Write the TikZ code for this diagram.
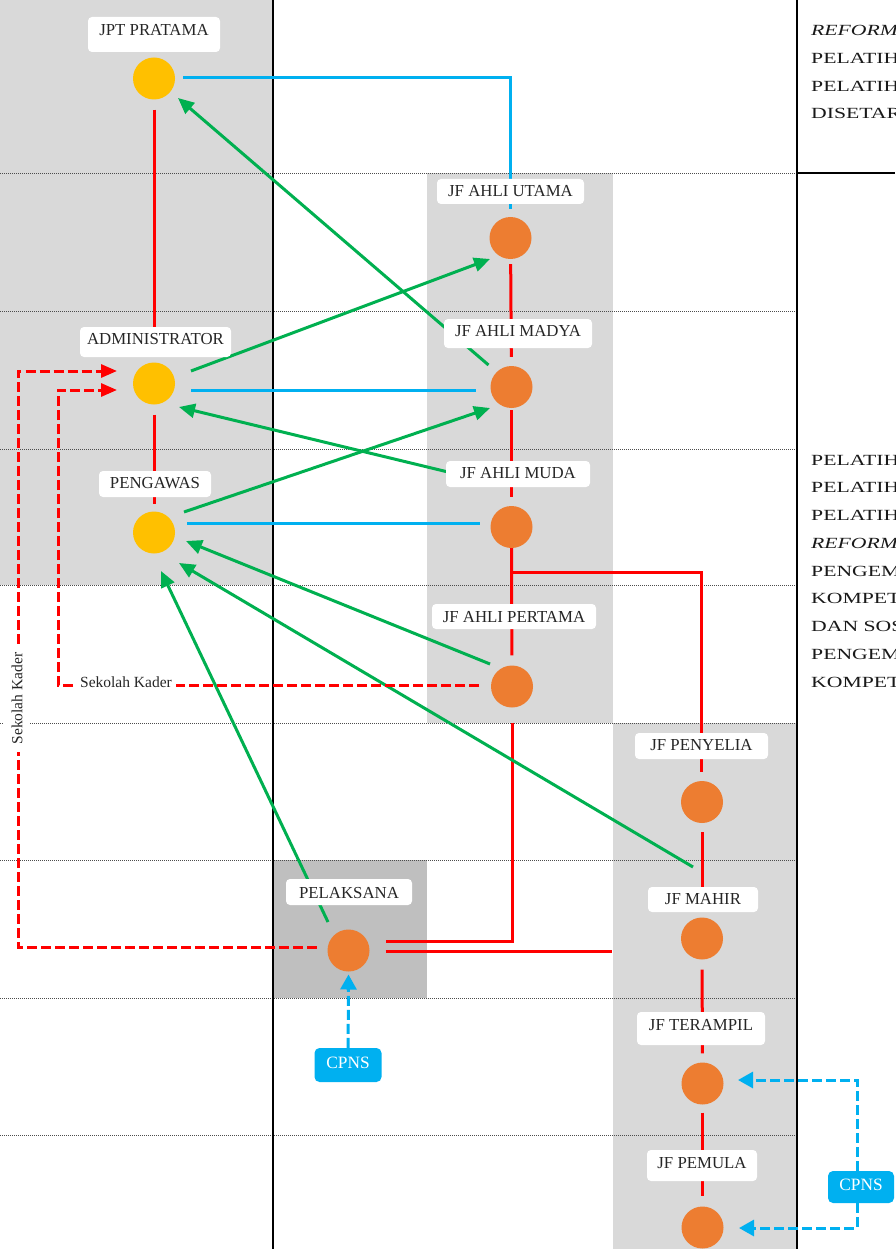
\documentclass[tikz,border=0pt]{standalone}
\usepackage{fontspec}
\setmainfont{Liberation Serif}
\newfontfamily\widefont{Liberation Serif}[FakeStretch=1.4]
\usetikzlibrary{arrows.meta,calc}
\pgfdeclarelayer{bg}
\pgfdeclarelayer{lines}
\pgfsetlayers{bg,lines,main}
\definecolor{gbg}{HTML}{D9D9D9}
\definecolor{gdark}{HTML}{BFBFBF}
\definecolor{yel}{HTML}{FFC000}
\definecolor{org}{HTML}{ED7D31}
\definecolor{cyanb}{HTML}{00B0F0}
\definecolor{grn}{HTML}{00B050}
\definecolor{redl}{HTML}{FF0000}
\begin{document}
\begin{tikzpicture}[x=1pt,y=-1pt,
  lvl/.style={circle, fill=yel, minimum size=42pt, inner sep=0pt},
  jf/.style={circle, fill=org, minimum size=42pt, inner sep=0pt},
  lab/.style n args={3}{fill=white, rounded corners=4pt, inner sep=0pt, anchor=base,
    minimum width=#1pt, text height=#2pt, text depth=#3pt, text=black!85,
    font=\fontsize{16.8}{18}\selectfont},
  cpns/.style n args={3}{fill=cyanb, rounded corners=5pt, inner sep=0pt, anchor=base,
    minimum width=#1pt, text height=#2pt, text depth=#3pt, text=white,
    font=\fontsize{17.3}{18}\selectfont},
  skl/.style={fill=white, text=black!85, font=\fontsize{15.5}{17}\selectfont},
  sidetext/.style={anchor=base west, inner sep=0pt, text=black!90, font=\widefont\fontsize{15.5}{17}\selectfont},
  redline/.style={draw=redl, line width=3pt},
  blueline/.style={draw=cyanb, line width=3pt},
  grnarrow/.style={draw=grn, line width=3pt, -{Triangle[length=16pt,width=14pt]}},
  reddash/.style={draw=redl, line width=3pt, dash pattern=on 10pt off 4pt, -{Triangle[length=16pt,width=13pt]}},
  bluedash/.style={draw=cyanb, line width=3pt, dash pattern=on 10pt off 4pt, -{Triangle[length=15pt,width=16pt]}},
  gridline/.style={draw=black!70, line width=0.8pt, dash pattern=on 1pt off 1pt},
  border/.style={draw=black, line width=2pt}
]
\useasboundingbox (0,0) rectangle (895,1249);

% ---------- background ----------
\begin{pgfonlayer}{bg}
\fill[white] (0,0) rectangle (895,1249);
\fill[gbg] (0,0) rectangle (273,585);
\fill[gbg] (427,173) rectangle (613,723);
\fill[gbg] (613,723) rectangle (797,1249);
\fill[gdark] (273,860) rectangle (427,998);
\foreach \yy in {173,311,449,585,723,860,998,1135}
  \draw[gridline] (0,\yy) -- (797,\yy);
\draw[border] (273,0) -- (273,1249);
\draw[border] (797,0) -- (797,1249);
\draw[border] (797,173) -- (895,173);
\end{pgfonlayer}

% ---------- right-hand texts ----------
\begin{scope}
\clip (799,0) rectangle (895,1249);
\foreach \t [count=\i from 0] in {{\textit{REFORMASI}},PELATIHAN,PELATIHAN,DISETARAKAN}
  \node[sidetext] (rt\i) at (811, 35.5+27.8*\i) {\t};
\foreach \t [count=\i from 0] in {PELATIHAN,PELATIHAN,PELATIHAN,{\textit{REFORMASI}},PENGEMBANGAN,KOMPETENSI,DAN SOSIAL,PENGEMBANGAN,KOMPETENSI}
  \node[sidetext] (rb\i) at (811, 465+27.75*\i) {\t};
\end{scope}

% ---------- circles ----------
\node[lvl] (jpt) at (154,78.5) {};
\node[lvl] (admin) at (154,383.5) {};
\node[lvl] (peng) at (154,532.5) {};
\node[jf] (utama) at (510.5,238) {};
\node[jf] (madya) at (511.5,387) {};
\node[jf] (muda) at (511.5,527) {};
\node[jf] (pertama) at (512,686.5) {};
\node[jf] (penyelia) at (702,802) {};
\node[jf] (mahir) at (702,938.5) {};
\node[jf] (terampil) at (702.5,1083.5) {};
\node[jf] (pemula) at (702.5,1227.5) {};
\node[jf] (pelaksana) at (348.5,950.5) {};

% ---------- labels ----------
\node[lab={132}{18.7}{16.3}] (ljpt) at (154,35.7) {JPT PRATAMA};
\node[lab={151}{17.3}{12.7}] (ladmin) at (155.5,344.3) {ADMINISTRATOR};
\node[lab={112}{17.3}{8.7}] (lpeng) at (155,488.3) {PENGAWAS};
\node[lab={147}{17.7}{7.3}] (lutama) at (510.5,196.7) {JF AHLI UTAMA};
\node[lab={148}{17.7}{11.3}] (lmadya) at (518,336.7) {JF AHLI MADYA};
\node[lab={144}{17.5}{8.5}] (lmuda) at (518,478.5) {JF AHLI MUDA};
\node[lab={164}{18}{7}] (lpertama) at (514,622) {JF AHLI PERTAMA};
\node[lab={133}{17}{9}] (lpenyelia) at (701.5,750) {JF PENYELIA};
\node[lab={110}{17.3}{7.7}] (lmahir) at (703,904.3) {JF MAHIR};
\node[lab={128}{18}{15}] (lterampil) at (701,1030) {JF TERAMPIL};
\node[lab={110}{18.3}{12.7}] (lpemula) at (702,1168.3) {JF PEMULA};
\node[lab={126}{19.3}{6.7}] (lpelaksana) at (349,898.3) {PELAKSANA};
\node[cpns={67}{20.3}{13.7}] (cpnsa) at (348,1068.3) {CPNS};
\node[cpns={66}{19}{13}] (cpnsb) at (861,1190) {CPNS};

\node[skl, rotate=90, inner xsep=8pt, inner ysep=8pt] (ska) at (17,698.5) {Sekolah Kader};
\node[skl, anchor=base, inner xsep=4pt, inner ysep=2pt] (skb) at (126,687) {Sekolah Kader};

% ---------- connectors ----------
\coordinate (mahirin) at (612,951);
\coordinate (ska1) at (18,947);
\coordinate (ska2) at (18,371);
\coordinate (skb1) at (58,685);
\coordinate (skb2) at (58,390);
\coordinate (cb1) at (857,1080);
\coordinate (cb2) at (857,1228);

\begin{pgfonlayer}{lines}
% red solid
\draw[redline, shorten <=10pt, shorten >=10pt] (jpt) -- (admin);
\draw[redline, shorten <=10pt, shorten >=7pt] (admin) -- (peng);
\draw[redline, shorten <=5pt, shorten >=9pt] (utama) -- (madya);
\draw[redline, shorten <=2pt, shorten >=9pt] (madya) -- (muda);
\draw[redline, shorten <=0pt, shorten >=10pt] (muda) -- (pertama);
\draw[redline, shorten <=9pt, shorten >=6pt] (penyelia) -- (mahir);
\draw[redline, shorten <=10pt, shorten >=9pt] (mahir) -- (terampil);
\draw[redline, shorten <=8pt, shorten >=10pt] (terampil) -- (pemula);
\draw[redline] ($(pertama)+(0,36)$) |- ($(pelaksana)+(37,-9.5)$);
\draw[redline] ($(pelaksana)+(37,0.5)$) -- (mahirin);
\draw[redline] ($(muda)+(0,45)$) -| ($(penyelia)+(-1,-30)$);
% blue solid
\draw[blueline] ($(jpt)+(29,-0.5)$) -| ($(utama)+(0,-29)$);
\draw[blueline] ($(admin)+(37,6.5)$) -- ($(madya)+(-35.5,3)$);
\draw[blueline] ($(peng)+(33,-9.5)$) -- ($(muda)+(-31.5,-4)$);
% green arrows
\draw[grnarrow] ($(madya)+(-23,-22)$) -- ($(jpt)+(24,19.5)$);
\draw[grnarrow] ($(admin)+(37,-12.5)$) -- ($(utama)+(-20.5,21)$);
\draw[grnarrow] ($(muda)+(-34.5,-48)$) -- ($(admin)+(25,23.5)$);
\draw[grnarrow] ($(peng)+(30,-20.5)$) -- ($(madya)+(-21.5,21)$);
\draw[grnarrow] ($(pertama)+(-22,-22.5)$) -- ($(peng)+(32,8.5)$);
\draw[grnarrow] ($(mahir)+(-9,-71.5)$) -- ($(peng)+(25,30.5)$);
\draw[grnarrow] ($(pelaksana)+(-20.5,-28.5)$) -- ($(peng)+(7,38.5)$);
% red dashed
\draw[reddash] ($(pelaksana)+(-32,-3.5)$) -- (ska1) -- (ska2) -- ($(admin)+(-37,-12.5)$);
\draw[reddash] ($(pertama)+(-33,-1.5)$) -- (skb1) -- (skb2) -- ($(admin)+(-37,6.5)$);
% blue dashed
\draw[bluedash] (cpnsa) -- ($(pelaksana)+(0,24)$);
\draw[bluedash] (cpnsb.north -| cb1) -- (cb1) -- ($(terampil)+(35.5,-3.5)$);
\draw[bluedash] (cpnsb.south -| cb2) -- (cb2) -- ($(pemula)+(36.5,0.5)$);
\end{pgfonlayer}
\end{tikzpicture}
\end{document}
